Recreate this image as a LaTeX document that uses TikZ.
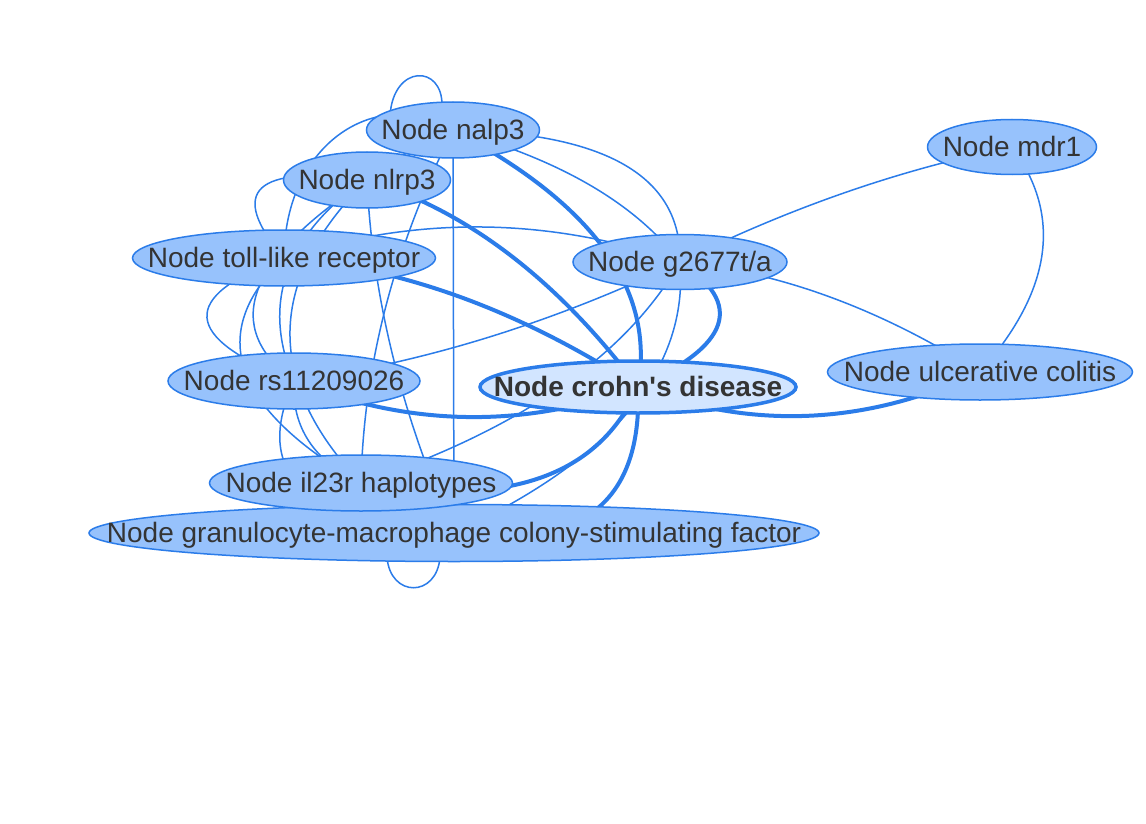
\documentclass[tikz,border=0pt]{standalone}
\usepackage{fontspec}
\setmainfont{Liberation Sans}
\usetikzlibrary{shapes.geometric,calc,backgrounds}
\pgfdeclarelayer{bottom}
\pgfsetlayers{bottom,background,main}
\definecolor{nodeF}{HTML}{97C2FC}
\definecolor{nodeB}{HTML}{2B7CE9}
\definecolor{hiF}{HTML}{D2E5FF}
\definecolor{edgeC}{HTML}{2B7CE9}
\definecolor{txt}{HTML}{343434}
\newcommand{\qedge}[4][thinE]{\draw[#1] (#2.center) .. controls ($(#2.center)!0.6667!(#3)$) and ($(#4.center)!0.6667!(#3)$) .. (#4.center);}
\newcommand{\lbl}[1]{\makebox[0pt]{\raisebox{-3pt}{#1}\strut}}
\begin{document}
\begin{tikzpicture}[x=1pt,y=-1pt,
  thinE/.style={draw=edgeC,line width=1.5pt},
  thickE/.style={draw=edgeC,line width=4pt},
  nd/.style={ellipse,draw=nodeB,fill=nodeF,line width=1.5pt,inner sep=0pt,text=txt,
    font=\fontsize{28}{32}\selectfont,minimum height=56}]
\begin{pgfonlayer}{bottom}
\fill[white] (0,0) rectangle (1146,824);
\end{pgfonlayer}
\useasboundingbox (0,0) rectangle (1146,824);

% nodes
\node[nd,minimum width=173] (nalp3) at (453,130) {\lbl{Node nalp3}};
\node[nd,minimum width=167] (nlrp3) at (367,180) {\lbl{Node nlrp3}};
\node[nd,minimum width=303] (toll) at (284,258) {\lbl{Node toll-like receptor}};
\node[nd,minimum width=214,minimum height=55] (g2677) at (680,262) {\lbl{Node g2677t/a}};
\node[nd,minimum width=169,minimum height=55] (mdr1) at (1012,147) {\lbl{Node mdr1}};
\node[nd,minimum width=252] (rs) at (294,381) {\lbl{Node rs11209026}};
\node[nd,minimum width=305] (uc) at (980,372) {\lbl{Node ulcerative colitis}};
\node[nd,minimum width=730,minimum height=57] (gran) at (454,533) {\lbl{Node granulocyte-macrophage colony-stimulating factor}};
\node[nd,minimum width=303] (il23r) at (361,483) {\lbl{Node il23r haplotypes}};
\node[nd,fill=hiF,line width=3.5pt,minimum width=316,minimum height=52,
  font=\fontsize{28}{32}\selectfont\bfseries] (crohn) at (638,387) {\lbl{Node crohn\textquotesingle s disease}};

\begin{pgfonlayer}{background}
% right side
\qedge{g2677}{846,180}{mdr1}
\qedge{g2677}{830,277}{uc}
\qedge{mdr1}{1088,250}{uc}
\qedge[thickE]{crohn}{809,452}{uc}
\qedge[thickE]{rs}{466,450}{crohn}
\qedge[thickE]{toll}{461,272}{crohn}
\qedge[thickE]{nlrp3}{517,226}{crohn}
\qedge[thickE]{nalp3}{664,241}{crohn}
\qedge[thickE]{g2677}{777,325}{crohn}
\qedge{g2677}{599,403}{il23r}
\qedge{g2677}{693,422}{gran}
\qedge[thickE]{crohn}{580,521}{il23r}
\qedge[thickE]{crohn}{645,560}{gran}
\qedge{rs}{487,354}{g2677}
\qedge{toll}{482,194}{g2677}
\qedge{nalp3}{683,134}{g2677}
\qedge{nalp3}{613,174}{g2677}
\draw[thinE] (nalp3.center) -- (gran.center);
% left cluster
\qedge{nlrp3}{198,157}{toll}
\draw[thinE] (nalp3.center) .. controls (380,85) and (285,140) .. (toll.center);
\qedge{toll}{125,316}{rs}
\qedge{toll}{167,370}{il23r}
\qedge{nlrp3}{185,300}{rs}
\qedge{nlrp3}{216,330}{il23r}
\qedge{nalp3}{365,305}{il23r}
\qedge{nlrp3}{375,355}{gran}
\qedge{nalp3}{230,230}{rs}
\qedge{rs}{230,520}{gran}
\qedge{rs}{290,450}{il23r}
% loops
\draw[thinE] ($(nalp3.center)+(-63,-14)$) .. controls ($(nalp3.center)+(-60,-66)$) and ($(nalp3.center)+(-10,-66)$) .. ($(nalp3.center)+(-11,-24)$);
\draw[thinE] ($(gran.center)+(-67,24)$) .. controls ($(gran.center)+(-64,65)$) and ($(gran.center)+(-17,65)$) .. ($(gran.center)+(-14,24)$);
\end{pgfonlayer}
\end{tikzpicture}
\end{document}
